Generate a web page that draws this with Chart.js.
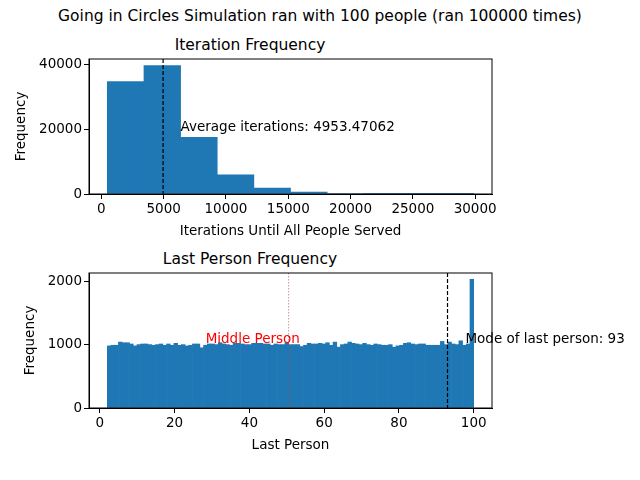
<!DOCTYPE html>
<html><head><meta charset="utf-8">
<script src="https://cdn.jsdelivr.net/npm/chart.js@4"></script>
<style>
body{margin:0;width:640px;height:480px;background:#fff;font-family:"DejaVu Sans",sans-serif;position:relative;overflow:hidden}
.t{position:absolute;left:0;width:100%;text-align:center;color:#000;white-space:nowrap}
canvas{position:absolute;left:0}
</style></head><body>
<div class="t" style="top:7px;font-size:15.5px">Going in Circles Simulation ran with 100 people (ran 100000 times)</div>
<div class="t" style="top:36px;left:-70px;font-size:15.5px">Iteration Frequency</div>
<div class="t" style="top:250px;left:-70px;font-size:15.5px">Last Person Frequency</div>
<canvas id="c1" width="640" height="240" style="top:0"></canvas>
<canvas id="c2" width="640" height="240" style="top:240px"></canvas>
<script>
// top histogram: 10 bins of iterations
const iterEdges = [476, 3417, 6357, 9298, 12238, 15179, 18119, 21060, 24000, 26941, 29881];
const iterCounts = [34700, 39700, 17500, 5900, 1800, 600, 150, 40, 10, 3];
const avgIter = 4953.47062;

// bottom histogram: last person, bins from 2 to 100
const lastStart = 2;
const lastCounts = [
 980, 990, 990, 1040, 1030, 1030, 1010, 980, 1000, 1010,
 1010, 1000, 990, 1000, 1010, 990, 1010, 990, 1020, 990,
 1000, 980, 990, 1010, 1010, 950, 990, 1010, 1010, 1000,
 1030, 1010, 1000, 990, 1020, 1020, 1010, 1000, 1000, 1020,
 1020, 1020, 1010, 1010, 990, 1010, 1000, 1000, 1030, 1000,
 1000, 1000, 970, 990, 1020, 1010, 1010, 1020, 1010, 1030,
 990, 1040, 960, 1000, 1010, 1040, 1020, 1010, 1000, 1020,
 1000, 990, 1010, 1000, 990, 990, 1000, 960, 980, 990,
 1020, 1030, 1010, 1000, 1010, 1010, 990, 990, 990, 990,
 1050, 1000, 1040, 1010, 1000, 1060, 990, 1010, 2030
];
const modeLast = 93;
const middleLast = 50.5;

const FONT = {family: '"DejaVu Sans", sans-serif', size: 13.5};
const BLUE = '#1f77b4';

function binData(edges, counts) {
    return counts.map((c, i) => ({x: (edges[i] + edges[i + 1]) / 2, y: c}));
}
const lastEdges = lastCounts.map((_, i) => lastStart + i * (98 / lastCounts.length)).concat([100]);

const marks = {
    id: 'marks',
    afterDatasetsDraw(chart, args, o) {
        const {ctx, chartArea: a, scales: {x, y}} = chart;
        ctx.save();
        (o.lines || []).forEach(l => {
            const px = x.getPixelForValue(l.x);
            ctx.strokeStyle = l.color; ctx.lineWidth = l.width; ctx.setLineDash(l.dash);
            ctx.beginPath(); ctx.moveTo(px, a.top); ctx.lineTo(px, a.bottom); ctx.stroke();
        });
        ctx.setLineDash([]);
        ctx.font = '13.5px "DejaVu Sans", sans-serif';
        ctx.textBaseline = 'middle';
        (o.texts || []).forEach(t => {
            ctx.fillStyle = t.color;
            ctx.fillText(t.text, x.getPixelForValue(t.x), y.getPixelForValue(t.y));
        });
        ctx.restore();
    }
};

function makeChart(id, data, xr, yr, xTicks, yTicks, xTitle, padTop, padLeft, ann) {
    return new Chart(document.getElementById(id), {
        type: 'bar',
        data: {datasets: [{data, backgroundColor: BLUE, barPercentage: 1, categoryPercentage: 1, borderWidth: 0}]},
        options: {
            responsive: false, animation: false,
            layout: {padding: {left: padLeft, right: 148, top: padTop, bottom: 240 - padTop - 135 - 46}},
            plugins: {legend: {display: false}, tooltip: {enabled: false}, marks: ann},
            scales: {
                x: {type: 'linear', min: xr[0], max: xr[1], offset: false,
                    afterBuildTicks: s => { s.ticks = xTicks.map(v => ({value: v})); },
                    afterFit: s => { s.height = 46; },
                    grid: {drawOnChartArea: false, tickLength: 5, tickColor: '#000', offset: false},
                    border: {color: '#000'},
                    ticks: {color: '#000', font: FONT, padding: 2, callback: v => String(v)},
                    title: {display: true, text: xTitle, color: '#000', font: FONT, padding: 0}},
                y: {min: yr[0], max: yr[1],
                    afterBuildTicks: s => { s.ticks = yTicks.map(v => ({value: v})); },
                    afterFit: s => { s.width = 89 - padLeft; },
                    grid: {drawOnChartArea: false, tickLength: 5, tickColor: '#000'},
                    border: {color: '#000'},
                    ticks: {color: '#000', font: FONT, padding: 2, callback: v => String(v)},
                    title: {display: true, text: 'Frequency', color: '#000', font: FONT, padding: 0}}
            }
        },
        plugins: [marks, {id: 'frame', afterDraw(c) {
            const a = c.chartArea, ctx = c.ctx;
            ctx.save(); ctx.strokeStyle = '#000'; ctx.lineWidth = 1;
            ctx.strokeRect(a.left, a.top, a.right - a.left, a.bottom - a.top); ctx.restore();
        }}]
    });
}

makeChart('c1', binData(iterEdges, iterCounts), [-994, 31351], [0, 41700],
    [0, 5000, 10000, 15000, 20000, 25000, 30000], [0, 20000, 40000],
    'Iterations Until All People Served', 59, 13,
    {lines: [{x: avgIter, color: '#000', width: 1.2, dash: [4, 2]}],
     texts: [{text: 'Average iterations: 4953.47062', x: 6350, y: 20400, color: '#000'}]});

makeChart('c2', binData(lastEdges, lastCounts), [-2.9, 104.9], [0, 2130],
    [0, 20, 40, 60, 80, 100], [0, 1000, 2000],
    'Last Person', 33, 22,
    {lines: [{x: middleLast, color: '#a05050', width: 0.6, dash: [1.5, 1.5]},
             {x: modeLast, color: '#000', width: 1.2, dash: [4, 2]}],
     texts: [{text: 'Middle Person', x: 28.3, y: 1080, color: '#ff0000'},
             {text: 'Mode of last person: 93', x: 97.8, y: 1080, color: '#000'}]});
</script>
</body></html>
